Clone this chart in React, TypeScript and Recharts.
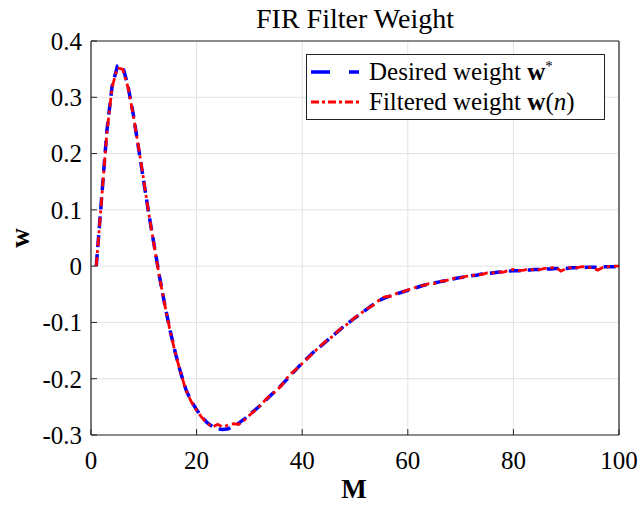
import { LineChart, Line, XAxis, YAxis, CartesianGrid } from 'recharts';

// tap index M = 1..100
const taps: number[] = Array.from({ length: 100 }, (_, i) => i + 1);

const desiredWeight: number[] = [
    0, 0.12, 0.24, 0.32, 0.355, 0.355, 0.32, 0.27, 0.21, 0.15,
    0.09, 0.035, -0.02, -0.07, -0.115, -0.155, -0.19, -0.22, -0.24, -0.255,
    -0.268, -0.278, -0.285, -0.289, -0.29, -0.289, -0.285, -0.279, -0.272, -0.264,
    -0.256, -0.248, -0.239, -0.23, -0.221, -0.212, -0.202, -0.192, -0.182, -0.172,
    -0.163, -0.154, -0.146, -0.138, -0.13, -0.122, -0.114, -0.106, -0.099, -0.092,
    -0.085, -0.078, -0.071, -0.065, -0.059, -0.055, -0.052, -0.049, -0.046, -0.043,
    -0.04, -0.037, -0.034, -0.032, -0.03, -0.028, -0.026, -0.024, -0.022, -0.02,
    -0.019, -0.017, -0.016, -0.014, -0.013, -0.012, -0.011, -0.01, -0.009, -0.008,
    -0.008, -0.007, -0.007, -0.006, -0.006, -0.005, -0.005, -0.004, -0.004, -0.004,
    -0.003, -0.003, -0.003, -0.002, -0.002, -0.002, -0.001, -0.001, -0.001, 0,
];

const filteredWeight: number[] = [
    0, 0.118, 0.236, 0.318, 0.352, 0.35, 0.318, 0.268, 0.212, 0.152,
    0.09, 0.034, -0.021, -0.07, -0.116, -0.156, -0.19, -0.221, -0.241, -0.256,
    -0.269, -0.279, -0.286, -0.281, -0.286, -0.282, -0.28, -0.281, -0.274, -0.265,
    -0.257, -0.248, -0.238, -0.229, -0.222, -0.213, -0.2, -0.19, -0.182, -0.173,
    -0.164, -0.155, -0.146, -0.137, -0.13, -0.123, -0.113, -0.107, -0.1, -0.091,
    -0.085, -0.077, -0.072, -0.066, -0.056, -0.054, -0.053, -0.048, -0.046, -0.042,
    -0.04, -0.035, -0.034, -0.031, -0.031, -0.027, -0.026, -0.024, -0.021, -0.021,
    -0.018, -0.017, -0.015, -0.015, -0.012, -0.012, -0.01, -0.011, -0.008, -0.006,
    -0.008, -0.007, -0.005, -0.007, -0.006, -0.004, -0.003, -0.002, -0.009, -0.004,
    -0.002, -0.003, -0.001, -0.002, -0.003, -0.007, -0.002, -0.001, 0, 0,
];

const xTicks = [0, 20, 40, 60, 80, 100];
const yTicks = [-0.3, -0.2, -0.1, 0, 0.1, 0.2, 0.3, 0.4];

const data = taps.map((m, i) => ({ m, desired: desiredWeight[i], filtered: filteredWeight[i] }));

const font = '"Liberation Serif", "Times New Roman", serif';

const fmtY = (v: number) => (v === 0 ? '0' : String(Math.round(v * 10) / 10));

const axisLine = { stroke: '#262626', strokeWidth: 1.2 };
const tickLine = { stroke: '#262626' };

const LegendBox = () => (
    <div
        style={{
            position: 'absolute',
            left: 306,
            top: 54,
            width: 299,
            height: 66,
            border: '1px solid #222',
            background: '#fff',
            fontFamily: font,
            fontSize: 25,
            color: '#000',
            boxSizing: 'border-box',
            whiteSpace: 'nowrap',
        }}
    >
        <div style={{ display: 'flex', alignItems: 'center', height: 30, marginTop: 2 }}>
            <svg width={58} height={10} style={{ marginLeft: 4, flex: 'none' }}>
                <line x1={0} y1={5} x2={48} y2={5} stroke="#0000ff" strokeWidth={3.5} strokeDasharray="19 19" />
            </svg>
            <span>
                Desired weight <b>w</b>
                <sup style={{ fontSize: 15 }}>*</sup>
            </span>
        </div>
        <div style={{ display: 'flex', alignItems: 'center', height: 30 }}>
            <svg width={58} height={10} style={{ marginLeft: 4, flex: 'none' }}>
                <line x1={0} y1={5} x2={48} y2={5} stroke="#ff0000" strokeWidth={3} strokeDasharray="8 3 3 3" />
            </svg>
            <span>
                Filtered weight <b>w</b>(<i>n</i>)
            </span>
        </div>
    </div>
);

export default function App() {
    return (
        <div style={{ position: 'absolute', left: 0, top: 0, width: 639, height: 508, background: '#fff' }}>
            <div
                style={{
                    position: 'absolute',
                    left: 55,
                    width: 600,
                    top: 3,
                    textAlign: 'center',
                    fontFamily: font,
                    fontSize: 28,
                    lineHeight: '32px',
                }}
            >
                FIR Filter Weight
            </div>
            <div
                style={{
                    position: 'absolute',
                    left: 354 - 25,
                    width: 50,
                    top: 474,
                    textAlign: 'center',
                    fontFamily: font,
                    fontSize: 27,
                    fontWeight: 'bold',
                    lineHeight: '30px',
                }}
            >
                M
            </div>
            <div
                style={{
                    position: 'absolute',
                    left: 5,
                    top: 223,
                    width: 30,
                    height: 30,
                    transform: 'rotate(-90deg)',
                    textAlign: 'center',
                    fontFamily: font,
                    fontSize: 27,
                    fontWeight: 'bold',
                    lineHeight: '30px',
                }}
            >
                w
            </div>
            <LineChart
                width={639}
                height={508}
                data={data}
                margin={{ top: 40, right: 19, bottom: 43, left: 31 }}
                style={{ position: 'absolute', left: 0, top: 0 }}
            >
                <CartesianGrid stroke="#e3e3e3" strokeWidth={1} />
                <XAxis
                    dataKey="m"
                    type="number"
                    domain={[0, 100]}
                    ticks={xTicks}
                    height={30}
                    allowDataOverflow
                    axisLine={axisLine}
                    tickLine={tickLine}
                    tickSize={-6}
                    tickMargin={22}
                    tick={{ fill: '#000', fontSize: 25, fontFamily: font }}
                />
                <XAxis
                    xAxisId="top"
                    orientation="top"
                    dataKey="m"
                    type="number"
                    domain={[0, 100]}
                    ticks={xTicks}
                    height={1}
                    allowDataOverflow
                    axisLine={axisLine}
                    tickLine={tickLine}
                    tickSize={-6}
                    tick={false}
                />
                <YAxis
                    type="number"
                    domain={[-0.3, 0.4]}
                    ticks={yTicks}
                    width={60}
                    allowDataOverflow
                    axisLine={axisLine}
                    tickLine={tickLine}
                    tickSize={-6}
                    tickMargin={15}
                    tickFormatter={fmtY}
                    tick={{ fill: '#000', fontSize: 25, fontFamily: font }}
                />
                <YAxis
                    yAxisId="right"
                    orientation="right"
                    type="number"
                    domain={[-0.3, 0.4]}
                    ticks={yTicks}
                    width={1}
                    allowDataOverflow
                    axisLine={axisLine}
                    tickLine={tickLine}
                    tickSize={-6}
                    tick={false}
                />
                <Line
                    type="linear"
                    dataKey="desired"
                    stroke="#0000ff"
                    strokeWidth={3.5}
                    strokeDasharray="12 7"
                    dot={false}
                    isAnimationActive={false}
                />
                <Line
                    type="linear"
                    dataKey="filtered"
                    stroke="#ff0000"
                    strokeWidth={2.8}
                    strokeDasharray="9 4 3 4"
                    dot={false}
                    isAnimationActive={false}
                />
            </LineChart>
            <LegendBox />
        </div>
    );
}
